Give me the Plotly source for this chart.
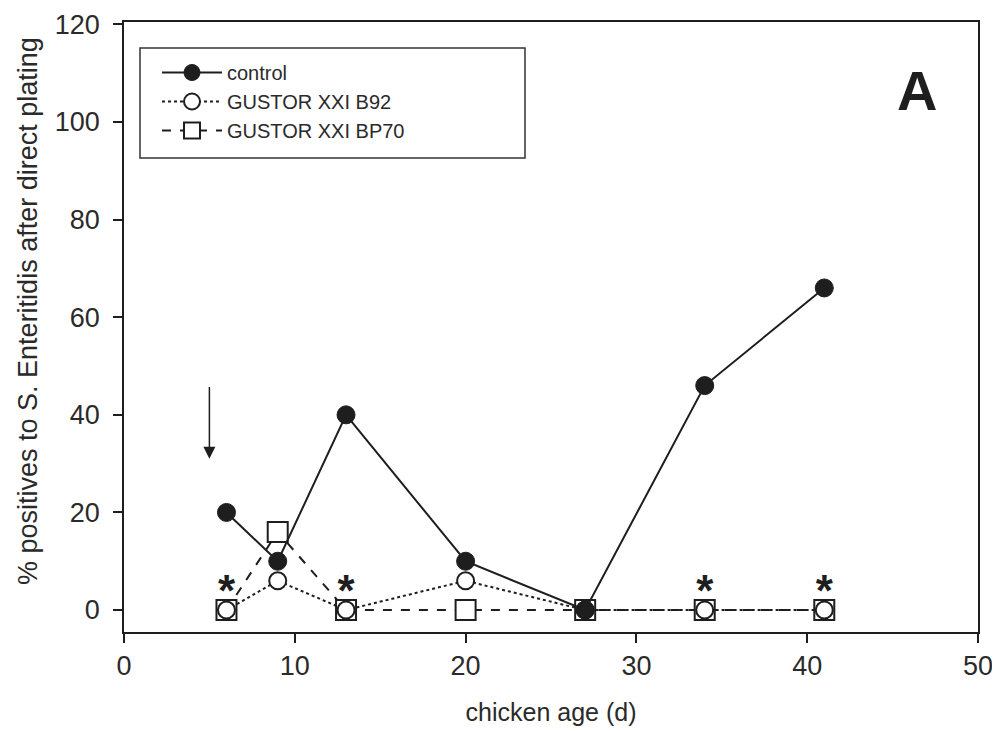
import plotly.graph_objects as go

age = [6, 9, 13, 20, 27, 34, 41]
control = [20, 10, 40, 10, 0, 46, 66]
b92 = [0, 6, 0, 6, 0, 0, 0]
bp70 = [0, 16, 0, 0, 0, 0, 0]

star_x = [6, 13, 34, 41]
star_y = [3, 3, 3, 3]

x_ticks = [0, 10, 20, 30, 40, 50]
y_ticks = [0, 20, 40, 60, 80, 100, 120]

ink = "#1e1e1e"
txt = "#2a2a2a"
font = "Liberation Sans, Arial, sans-serif"

# plot area (page has 8px body margin)
L, R, T, B = 116, 22, 14, 99
W, H = 992, 723

fig = go.Figure()

fig.add_trace(go.Scatter(
    x=age, y=bp70, name="GUSTOR XXI BP70", mode="lines+markers",
    line=dict(color=ink, width=2, dash="dash"),
    marker=dict(symbol="square", size=20, color="white", line=dict(color=ink, width=2)),
    legendrank=3))
fig.add_trace(go.Scatter(
    x=age, y=b92, name="GUSTOR XXI B92", mode="lines+markers",
    line=dict(color=ink, width=2, dash="dot"),
    marker=dict(symbol="circle", size=17, color="white", line=dict(color=ink, width=2)),
    legendrank=2))
fig.add_trace(go.Scatter(
    x=age, y=control, name="control", mode="lines+markers",
    line=dict(color=ink, width=2),
    marker=dict(symbol="circle", size=18, color=ink, line=dict(color=ink, width=1)),
    legendrank=1))
fig.add_trace(go.Scatter(
    x=star_x, y=star_y, mode="text", text=["<b>*</b>"] * len(star_x),
    textfont=dict(size=44, color=ink, family=font), textposition="middle center",
    showlegend=False, hoverinfo="skip"))

fig.add_annotation(x=5, y=31, ax=5, ay=46, xref="x", yref="y", axref="x", ayref="y",
                   showarrow=True, arrowhead=2, arrowsize=1.6, arrowwidth=1.5,
                   arrowcolor=ink, text="")
fig.add_annotation(x=46.4, y=106.4, xref="x", yref="y", text="<b>A</b>", showarrow=False,
                   font=dict(size=56, color=ink, family=font))

# y-axis title as rotated annotation
fig.add_annotation(x=(28 - 124) / 854, y=(632 - 311) / 610, xref="paper", yref="paper",
                   text="% positives to S. Enteritidis after direct plating",
                   textangle=-90, showarrow=False, xanchor="center", yanchor="middle",
                   font=dict(size=27, color=txt, family=font))

fig.add_shape(type="rect", xref="paper", yref="paper",
              x0=(140 - 124) / 854, x1=(525 - 124) / 854,
              y0=(632 - 158) / 610, y1=(632 - 48) / 610,
              line=dict(color="#333", width=1.5), fillcolor="rgba(0,0,0,0)")

fig.update_layout(
    width=W, height=H,
    margin=dict(l=L, r=R, t=T, b=B),
    paper_bgcolor="white", plot_bgcolor="white",
    font=dict(family=font, color=txt, size=26),
    showlegend=True,
    legend=dict(x=(157 - 124) / 854, y=(632 - 53) / 610, xanchor="left", yanchor="top",
                bgcolor="rgba(0,0,0,0)", borderwidth=0, font=dict(size=20),
                tracegroupgap=0, itemwidth=60),
    xaxis=dict(range=[0, 50], tickvals=x_ticks, ticks="outside", ticklen=9,
               tickwidth=1.5, tickcolor=ink, showline=True, linecolor=ink,
               linewidth=1.5, mirror=True, showgrid=False, zeroline=False,
               tickfont=dict(size=27), automargin=False,
               title=dict(text="chicken age (d)", font=dict(size=25), standoff=23)),
    yaxis=dict(range=[-4.5, 120.5], tickvals=y_ticks, ticks="outside", ticklen=9,
               tickwidth=1.5, tickcolor=ink, showline=True, linecolor=ink,
               linewidth=1.5, mirror=True, showgrid=False, zeroline=False,
               tickfont=dict(size=27), ticklabelstandoff=8, automargin=False),
)

fig.write_html("out.html")
